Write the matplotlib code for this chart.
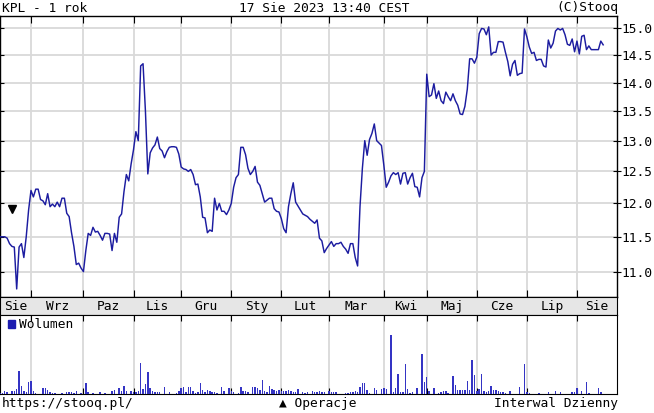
import matplotlib
matplotlib.use("Agg")
import matplotlib.pyplot as plt
from matplotlib.patches import Rectangle
from matplotlib.ticker import FixedLocator, NullLocator, FuncFormatter

# KPL daily close, one value per trading day (17.08.2022 - 17.08.2023)
prices = [
    11.5, 11.5, 11.5, 11.48, 11.40, 11.36, 11.35, 10.76, 11.35, 11.40,
    11.2, 11.5, 11.9, 12.2, 12.1, 12.22, 12.22, 12.06, 12.04, 11.98,
    12.15, 11.95, 11.99, 11.95, 12.02, 11.95, 12.08, 12.08, 11.85, 11.80,
    11.56, 11.36, 11.1, 11.12, 11.05, 11.0, 11.3, 11.55, 11.52, 11.64,
    11.57, 11.58, 11.52, 11.45, 11.55, 11.55, 11.54, 11.3, 11.55, 11.42,
    11.79, 11.84, 12.18, 12.45, 12.35, 12.62, 12.85, 13.15, 13.0, 14.3,
    14.34, 13.5, 12.46, 12.8, 12.88, 12.93, 13.06, 12.87, 12.83, 12.72,
    12.82, 12.89, 12.9, 12.9, 12.89, 12.78, 12.57, 12.54, 12.53, 12.5,
    12.53, 12.45, 12.29, 12.3, 12.1, 11.79, 11.78, 11.56, 11.6, 11.58,
    12.08, 11.9, 12.0, 11.88, 11.88, 11.83, 11.9, 12.0, 12.25, 12.4,
    12.45, 12.89, 12.89, 12.77, 12.55, 12.45, 12.5, 12.58, 12.33, 12.28,
    12.15, 12.02, 12.05, 12.08, 12.08, 11.92, 11.88, 11.87, 11.77, 11.62,
    11.56, 11.95, 12.15, 12.32, 12.02, 11.96, 11.9, 11.84, 11.82, 11.8,
    11.76, 11.73, 11.7, 11.75, 11.48, 11.44, 11.27, 11.33, 11.38, 11.43,
    11.36, 11.4, 11.4, 11.42, 11.36, 11.32, 11.26, 11.4, 11.4, 11.2,
    11.08, 11.95, 12.55, 13.0, 12.76, 13.02, 13.12, 13.28, 13.0, 12.96,
    12.92, 12.6, 12.25, 12.33, 12.43, 12.48, 12.45, 12.48, 12.3, 12.47,
    12.48, 12.3, 12.4, 12.47, 12.26, 12.25, 12.1, 12.4, 12.5, 14.15,
    13.75, 13.78, 13.98, 13.72, 13.85, 13.68, 13.63, 13.83, 13.75, 13.68,
    13.8, 13.68, 13.6, 13.45, 13.44, 13.58, 13.88, 14.43, 14.43, 14.35,
    14.46, 14.9, 15.0, 14.99, 14.88, 15.03, 14.5, 14.55, 14.55, 14.75,
    14.75, 14.74, 14.55, 14.38, 14.12, 14.33, 14.4, 14.13, 14.16, 14.17,
    14.99, 14.84, 14.65, 14.53, 14.55, 14.4, 14.42, 14.42, 14.3, 14.28,
    14.78, 14.63, 14.72, 14.95, 15.0, 14.97, 15.0, 14.88, 14.7, 14.68,
    14.8, 14.56, 14.76, 14.52, 14.85, 14.87, 14.6, 14.67, 14.6, 14.6,
    14.6, 14.6, 14.76, 14.69,
]

# volume (thousands of shares), same days
volumes = [
    1, 1, 3.3, 2.3, 0, 3.3, 2.7, 5, 22.7, 8.3,
    3.3, 1.7, 11.7, 13.3, 3.3, 1.3, 0, 0, 6, 6,
    4, 2, 1.3, 1, 0, 0, 1.3, 0, 2.3, 2.3,
    2, 1.3, 3.3, 0, 1, 0, 11, 1.7, 0, 1.3,
    0, 0, 2, 0, 1.3, 0, 0, 2.7, 4, 0,
    6, 3.3, 8.3, 2.7, 0, 3.3, 2.3, 1.7, 2.7, 31,
    5, 10, 21.3, 5.7, 2.7, 1.7, 2.3, 1.7, 0, 7.3,
    0, 2.3, 0, 0, 1.3, 2.7, 5.7, 7.3, 2.3, 7.3,
    7.3, 2.7, 1.3, 2.3, 10.7, 4, 1.7, 4.3, 2.7, 2,
    1.7, 1.3, 0, 6.7, 2.7, 0, 6, 2.7, 1.7, 0,
    1.3, 6.7, 2.7, 2.7, 1.7, 0, 6.7, 7.3, 6, 4,
    14.3, 3.3, 2.3, 8.3, 5, 4, 2.7, 4, 2.7, 3.3,
    2.7, 4, 3.3, 2, 1.7, 5, 0, 2.3, 1.3, 1.7,
    0, 2.7, 1.7, 2, 2.7, 2, 1.7, 0, 3.3, 2.3,
    2, 2, 0, 0, 0, 1.3, 1.3, 1.7, 2, 3.3,
    2, 7.3, 10.7, 10.7, 4, 1.3, 0, 6, 4, 0,
    5, 6, 5, 0, 58.3, 1.7, 6, 20, 2, 2.3,
    30, 4.7, 1.3, 2.3, 0, 6, 0, 39.3, 11.7, 16.7,
    2.7, 0, 6, 0, 1.3, 2.3, 2.7, 3.3, 1.3, 0,
    17.7, 9.3, 4, 4, 4, 4.3, 13.3, 4, 33.3, 19,
    3, 5, 20, 3.3, 2.3, 3.3, 8.3, 4, 4, 3.3,
    2.3, 2.3, 1.3, 0, 3.3, 0, 0, 0, 7.3, 0,
    29.3, 1.7, 1.3, 0, 0, 0, 1, 0, 0, 0,
    2, 0, 0, 2.7, 0, 1.7, 0, 0, 0, 0,
    1.7, 2, 6, 0, 3.3, 0, 11.7, 1.3, 0, 0,
    0, 6, 1.7, 0,
]

# first trading day of each month (index into the lists above)
month_starts = [13, 35, 56, 76, 97, 118, 138, 161, 179, 200, 221, 242]
month_names = ["Sie", "Wrz", "Paz", "Lis", "Gru", "Sty", "Lut", "Mar",
               "Kwi", "Maj", "Cze", "Lip", "Sie"]
price_ticks = [11.0, 11.5, 12.0, 12.5, 13.0, 13.5, 14.0, 14.5, 15.0]
operations = [5]          # day of the ▼ marker
operation_level = 11.92

days = list(range(len(prices)))
XMAX = 258.8
MONO = ["DejaVu Sans Mono", "DejaVu Sans"]
FS = 9.3
GRID = "#d9d9d9"
LINE = "#1c1ca0"

plt.rcParams["font.family"] = MONO

W, H = 654, 413
fig = plt.figure(figsize=(W / 100, H / 100), dpi=100)


def box(x0, y0, x1, y1):
    # pixel box (top-left origin) -> figure fraction rect
    return [x0 / W, 1 - y1 / H, (x1 - x0) / W, (y1 - y0) / H]


# --- price panel ---
ax = fig.add_axes(box(0, 16, 617, 297))
ax.plot(days, prices, color=LINE, lw=1.05, zorder=3)
ax.plot(operations, [operation_level] * len(operations), "v", color="black",
        ms=6, zorder=4)
ax.set_yscale("log")
ax.set_ylim(10.65, 15.24)
ax.set_xlim(0, XMAX)
ax.yaxis.set_major_locator(FixedLocator(price_ticks))
ax.yaxis.set_minor_locator(NullLocator())
ax.yaxis.set_major_formatter(FuncFormatter(lambda v, p: f"{v:.1f}"))
ax.set_xticks(month_starts)
ax.set_xticklabels([])
ax.tick_params(axis="x", direction="in", length=5, top=True, bottom=True,
               width=0.8)
ax.tick_params(axis="y", direction="inout", length=6, left=True, right=True,
               labelleft=False, labelright=True, pad=0, labelsize=FS,
               width=0.8)
ax.grid(True, color=GRID, lw=1.3, zorder=0)
for s in ax.spines.values():
    s.set_linewidth(1.0)

# --- month label band ---
band = fig.add_axes(box(0, 297, 617, 315))
band.set_facecolor("#e6e6e6")
band.set_xlim(0, XMAX)
band.set_ylim(0, 1)
band.set_xticks([])
band.set_yticks([])
edges = [0] + month_starts + [XMAX]
for k, name in enumerate(month_names):
    mid = (edges[k] + edges[k + 1]) / 2
    band.text(mid, 0.45, name, ha="center", va="center", fontsize=FS)

# --- volume panel ---
axv = fig.add_axes(box(0, 315, 617, 394))
axv.bar(days, volumes, width=0.6, color="#3434c4", zorder=3)
axv.set_xlim(0, XMAX)
axv.set_ylim(0, max(volumes) * 1.34)
axv.set_xticks(month_starts)
axv.set_xticklabels([])
axv.set_yticks([])
axv.tick_params(axis="x", direction="in", length=4, top=True, bottom=True,
                width=0.8)
axv.grid(True, axis="x", color=GRID, lw=1.3, zorder=0)
axv.add_patch(Rectangle((8 / 617, 0.83), 7 / 617, 8 / 79, color="#1c1cb0",
                        transform=axv.transAxes, zorder=5))
axv.text(19 / 617, 0.88, "Wolumen", fontsize=FS, transform=axv.transAxes,
         va="center", ha="left")

# --- header / footer ---
fig.text(2 / W, 1 - 8 / H, "KPL - 1 rok", fontsize=FS, va="center")
fig.text(324 / W, 1 - 8 / H, "17 Sie 2023 13:40 CEST", fontsize=FS,
         va="center", ha="center")
fig.text(618 / W, 1 - 8 / H, "(C)Stooq", fontsize=FS, va="center", ha="right")
fig.text(2 / W, 1 - 404 / H, "https://stooq.pl/", fontsize=FS, va="center")
fig.text(318 / W, 1 - 404 / H, "▲ Operacje", fontsize=FS, va="center",
         ha="center")
fig.text(618 / W, 1 - 404 / H, "Interwal Dzienny", fontsize=FS, va="center",
         ha="right")

fig.savefig("out.png", dpi=100, facecolor="white")
